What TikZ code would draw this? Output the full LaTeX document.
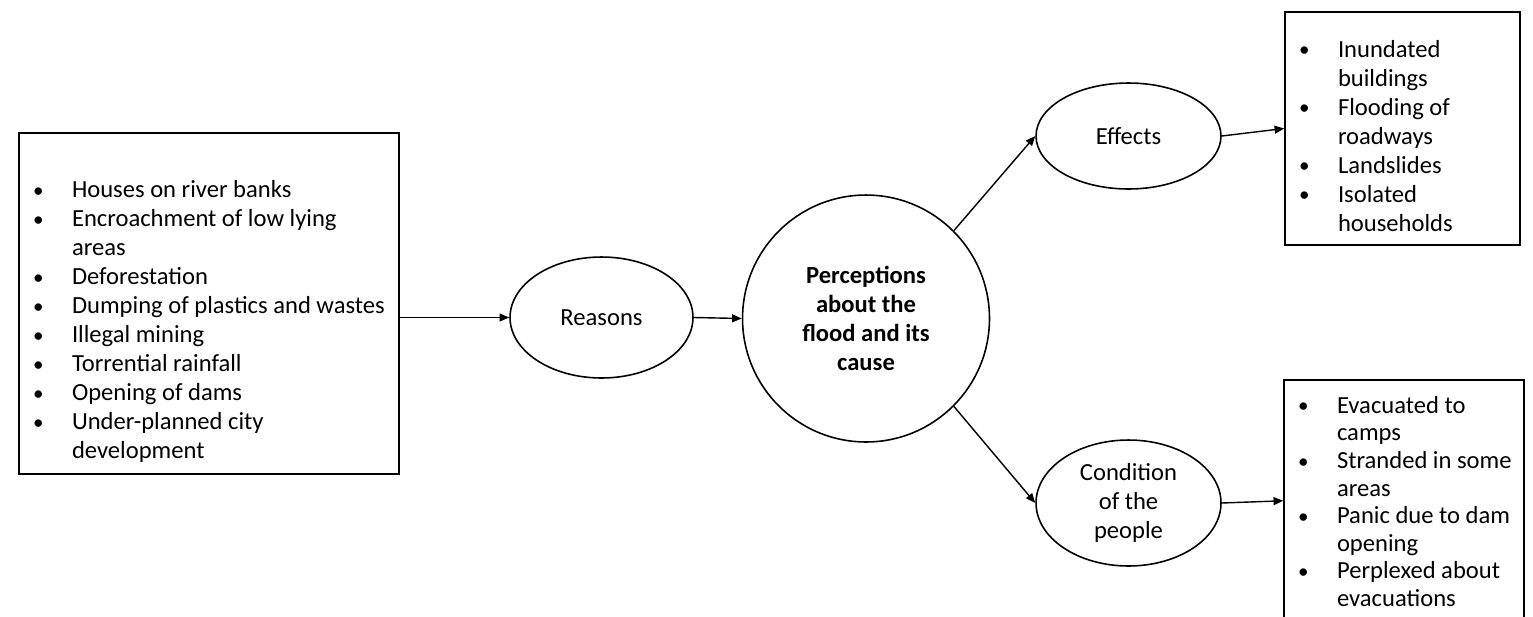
\documentclass[tikz,border=0pt]{standalone}
\usepackage{fontspec}
\setmainfont{Carlito}
\usepackage{tikz}
\usetikzlibrary{arrows.meta}
\usetikzlibrary{shapes.geometric}

\newcommand{\diagfont}{\fontsize{14}{16.5}\selectfont}
\newcommand{\bpoint}[1]{\makebox[0.78cm][l]{\raisebox{0.3pt}{\fontsize{12}{12}\selectfont\textbullet}}\mbox{#1}}
\newcommand{\bwrap}[1]{\hspace*{0.78cm}\mbox{#1}}

\begin{document}
\begin{tikzpicture}[x=0.02cm,y=-0.02cm,
	every node/.style={font=\diagfont},
	listbox/.style={draw,rectangle,line width=0.9pt,inner xsep=0.28cm,inner ysep=0.15cm,align=flush left},
	oval/.style={draw,ellipse,line width=0.9pt,inner sep=0pt,align=center},
	flow/.style={-{Triangle[length=5.5pt,width=4.5pt]},line width=0.8pt}]

		\useasboundingbox (0,0) rectangle (1533,616);
		\clip (0,0) rectangle (1533,616);

		\node [listbox, text width=7.04cm, minimum height=6.82cm] (causes) at (209,303.5)
			{\mbox{}\\[14pt]
			\bpoint{Houses on river banks}\\
			\bpoint{Encroachment of low lying}\\
			\bwrap{areas}\\
			\bpoint{Deforestation}\\
			\bpoint{Dumping of plastics and wastes}\\
			\bpoint{Illegal mining}\\
			\bpoint{Torrential rainfall}\\
			\bpoint{Opening of dams}\\
			\bpoint{Under-planned city}\\
			\bwrap{development}};

		\node [oval, minimum width=3.66cm, minimum height=2.42cm] (reasons) at (601.5,317.5) {Reasons};

		\node [draw, circle, line width=0.9pt, inner sep=0pt, minimum size=4.94cm, align=center,
			font=\diagfont\bfseries] (percep) at (866,318.5)
			{Perceptions\\about the\\flood and its\\cause};

		\node [oval, minimum width=3.7cm, minimum height=2.12cm] (effects) at (1128.5,136) {Effects};
		\node [oval, minimum width=3.7cm, minimum height=2.52cm] (condition) at (1128.5,503)
			{Condition\\of the\\people};

		\node [listbox, text width=4.14cm, minimum height=4.66cm] (impacts) at (1402.5,128.5)
			{\rule{0pt}{18pt}\bpoint{Inundated}\\
			\bwrap{buildings}\\
			\bpoint{Flooding of}\\
			\bwrap{roadways}\\
			\bpoint{Landslides}\\
			\bpoint{Isolated}\\
			\bwrap{households}};

		\node [listbox, text width=4.24cm, minimum height=4.84cm, anchor=north,
			font=\fontsize{14}{15.7}\selectfont] (plight) at (1404,379)
			{\rule{0pt}{10.5pt}\bpoint{Evacuated to}\\
			\bwrap{camps}\\
			\bpoint{Stranded in some}\\
			\bwrap{areas}\\
			\bpoint{Panic due to dam}\\
			\bwrap{opening}\\
			\bpoint{Perplexed about}\\
			\bwrap{evacuations}};

		\draw [flow] (causes.east |- reasons.west) -- (reasons.west);
		\draw [flow] (reasons.east) -- (percep.west);
		\draw [flow] (percep.45) -- (effects.west);
		\draw [flow] (percep.-45) -- (condition.west);
		\draw [flow] (effects.east) -- (impacts.west);
		\draw [flow] (condition.east) -- (plight.west);

\end{tikzpicture}
\end{document}
